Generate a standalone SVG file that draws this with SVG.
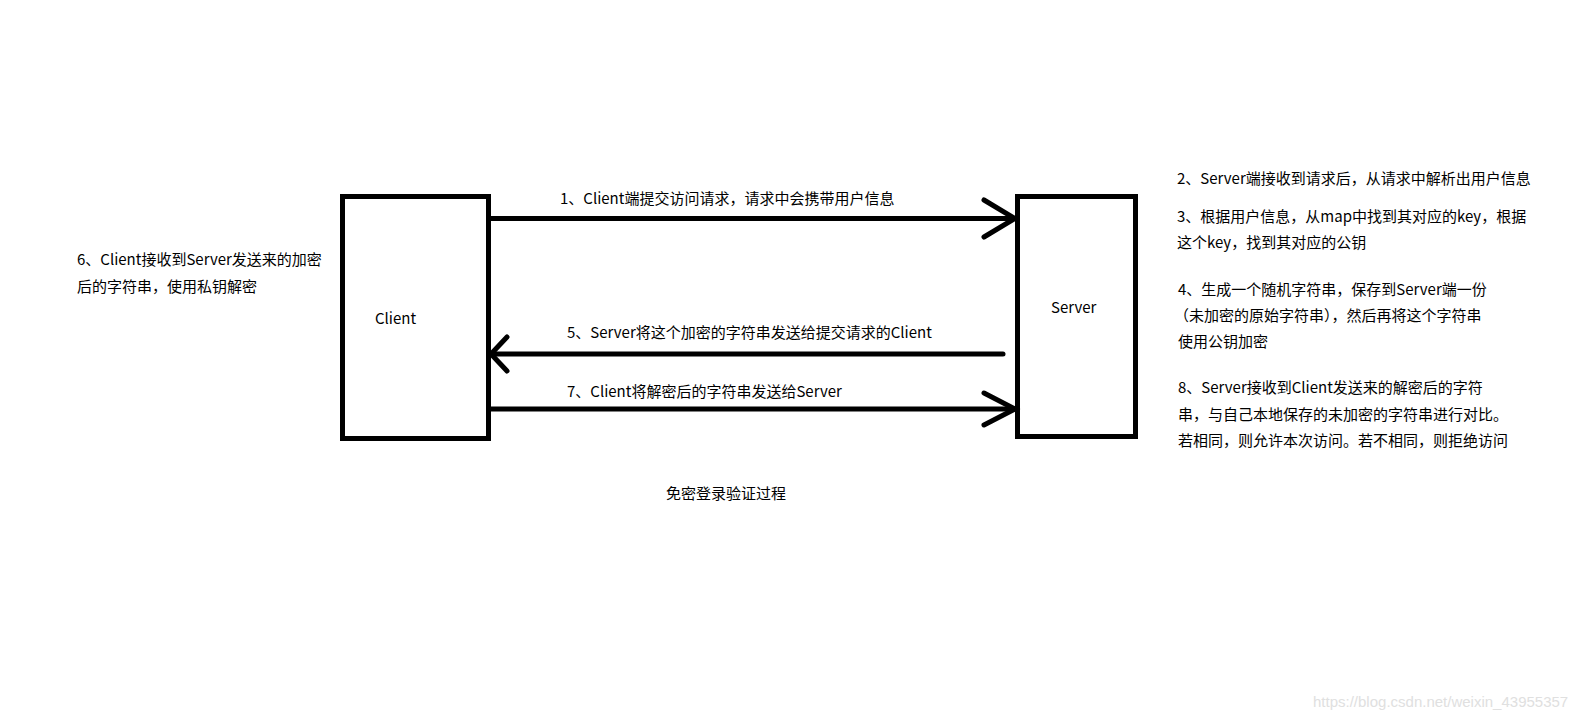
<svg xmlns="http://www.w3.org/2000/svg" width="1594" height="721" viewBox="0 0 1594 721">
<style>
text{font-family:"Microsoft YaHei","Noto Sans CJK SC","Noto Sans",sans-serif;font-size:15px;fill:#000}
.box{fill:#fff;stroke:#000;stroke-width:5}
.ln{stroke:#000;stroke-width:5;fill:none;stroke-linecap:round;stroke-linejoin:miter}
.wm{font-family:"Liberation Sans",Arial,sans-serif;font-size:15px;fill:#e0e0e0}
</style>
<rect width="1594" height="721" fill="#fff"/>
<g id="client">
<rect class="box" x="342.5" y="196.5" width="146" height="242"/>
<text x="375" y="324">Client</text>
</g>
<g id="server">
<rect class="box" x="1017.5" y="196.5" width="118" height="240"/>
<text x="1051" y="313">Server</text>
</g>
<g id="connectors">
<line class="ln" x1="491" y1="218.5" x2="1015" y2="218.5"/>
<polyline class="ln" points="984,200 1015,218.5 984,237"/>
<line class="ln" x1="491" y1="354" x2="1003" y2="354"/>
<polyline class="ln" points="507,337 491,354 507,371"/>
<line class="ln" x1="491" y1="409" x2="1015" y2="409"/>
<polyline class="ln" points="984,393 1015,409 984,425"/>
</g>
<g id="labels">
<text x="560" y="204">1、Client端提交访问请求，请求中会携带用户信息</text>
<text x="567" y="338">5、Server将这个加密的字符串发送给提交请求的Client</text>
<text x="567" y="397">7、Client将解密后的字符串发送给Server</text>
</g>
<g id="notes-server">
<text x="1177" y="184">2、Server端接收到请求后，从请求中解析出用户信息</text>
<text x="1177" y="222">3、根据用户信息，从map中找到其对应的key，根据</text>
<text x="1177" y="248">这个key，找到其对应的公钥</text>
<text x="1178" y="295">4、生成一个随机字符串，保存到Server端一份</text>
<text x="1174" y="321">（未加密的原始字符串），然后再将这个字符串</text>
<text x="1178" y="347">使用公钥加密</text>
<text x="1178" y="393">8、Server接收到Client发送来的解密后的字符</text>
<text x="1178" y="420">串，与自己本地保存的未加密的字符串进行对比。</text>
<text x="1178" y="446">若相同，则允许本次访问。若不相同，则拒绝访问</text>
</g>
<g id="notes-client">
<text x="77" y="265">6、Client接收到Server发送来的加密</text>
<text x="77" y="292">后的字符串，使用私钥解密</text>
</g>
<g id="caption">
<text x="666" y="499">免密登录验证过程</text>
</g>
<text class="wm" x="1313" y="707">https://blog.csdn.net/weixin_43955357</text>
</svg>
